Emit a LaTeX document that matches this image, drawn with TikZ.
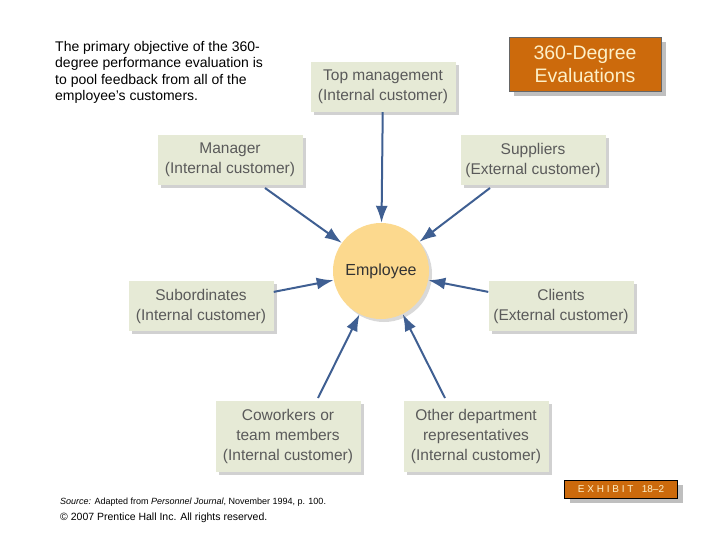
\documentclass[tikz,border=0pt]{standalone}
\usepackage{fontspec}
\setmainfont{Liberation Sans}
\usetikzlibrary{arrows.meta,shadows}
\definecolor{boxfill}{HTML}{E6EAD6}
\definecolor{boxtext}{HTML}{5A5A5A}
\definecolor{arrowc}{HTML}{3F5F92}
\definecolor{orangeb}{HTML}{CC6A0C}
\definecolor{cream}{HTML}{FDF0C8}
\definecolor{circfill}{HTML}{FCD98E}
\tikzset{
  src/.style={draw=none,fill=boxfill,minimum width=145pt,minimum height=50pt,align=center,text=boxtext,font=\fontsize{15.5}{20}\selectfont,drop shadow={shadow xshift=3pt,shadow yshift=-3pt,fill=black!30,opacity=0.6}},
  conn/.style={draw=arrowc,line width=2pt,-{Latex[length=17pt,width=12pt]}},
  banner/.style={fill=orangeb,draw=black!60,text=cream,align=center,drop shadow={shadow xshift=5pt,shadow yshift=-5pt,fill=black!25,opacity=1}}
}
\begin{document}
\begin{tikzpicture}[x=1pt,y=-1pt]
\useasboundingbox (0,0) rectangle (720,540);
\node[circle,fill=circfill,minimum size=96pt,text=black!80,font=\fontsize{16}{18}\selectfont,drop shadow={shadow xshift=3pt,shadow yshift=-3pt,fill=black!25,opacity=0.6}] (emp) at (381,271) {Employee};
\node[src] (top) at (383,87) {Top management\\(Internal customer)};
\node[src] (man) at (230,160) {Manager\\(Internal customer)};
\node[src] (sup) at (533,160) {Suppliers\\(External customer)};
\node[src] (sub) at (201,306) {Subordinates\\(Internal customer)};
\node[src] (cli) at (561,306) {Clients\\(External customer)};
\node[src,minimum height=71pt] (cow) at (288,436) {Coworkers or\\team members\\(Internal customer)};
\node[src,minimum height=71pt] (oth) at (476,436) {Other department\\representatives\\(Internal customer)};
\coordinate (m1) at (265,188);
\coordinate (s1) at (490,188);
\coordinate (c1) at (318,398);
\coordinate (o1) at (445,398);
\draw[conn] (top) -- (emp);
\draw[conn] (m1) -- (emp);
\draw[conn] (s1) -- (emp);
\draw[conn] (sub) -- (emp);
\draw[conn] (cli) -- (emp);
\draw[conn] (c1) -- (emp);
\draw[conn] (o1) -- (emp);
\node[banner,minimum width=152pt,minimum height=54pt,font=\fontsize{19.5}{23}\selectfont] (title) at (585,64) {360-Degree\\Evaluations};
\node[banner,minimum width=113pt,minimum height=18pt,font=\fontsize{10}{11}\selectfont,draw=black] (exh) at (621,489) {E X H I B I T \ \ 18--2};
\node[anchor=north west,align=left,font=\fontsize{14}{16.5}\selectfont,inner sep=0pt] (intro) at (55,41) {The primary objective of the 360-\\degree performance evaluation is\\to pool feedback from all of the\\employee’s customers.};
\node[anchor=west,font=\fontsize{9}{10}\selectfont,inner sep=0pt] (source) at (60,502) {\textit{Source:} Adapted from \textit{Personnel Journal}, November 1994, p. 100.};
\node[anchor=west,font=\fontsize{10.5}{11}\selectfont,inner sep=0pt] (copy) at (60,518) {© 2007 Prentice Hall Inc. All rights reserved.};
\end{tikzpicture}
\end{document}
